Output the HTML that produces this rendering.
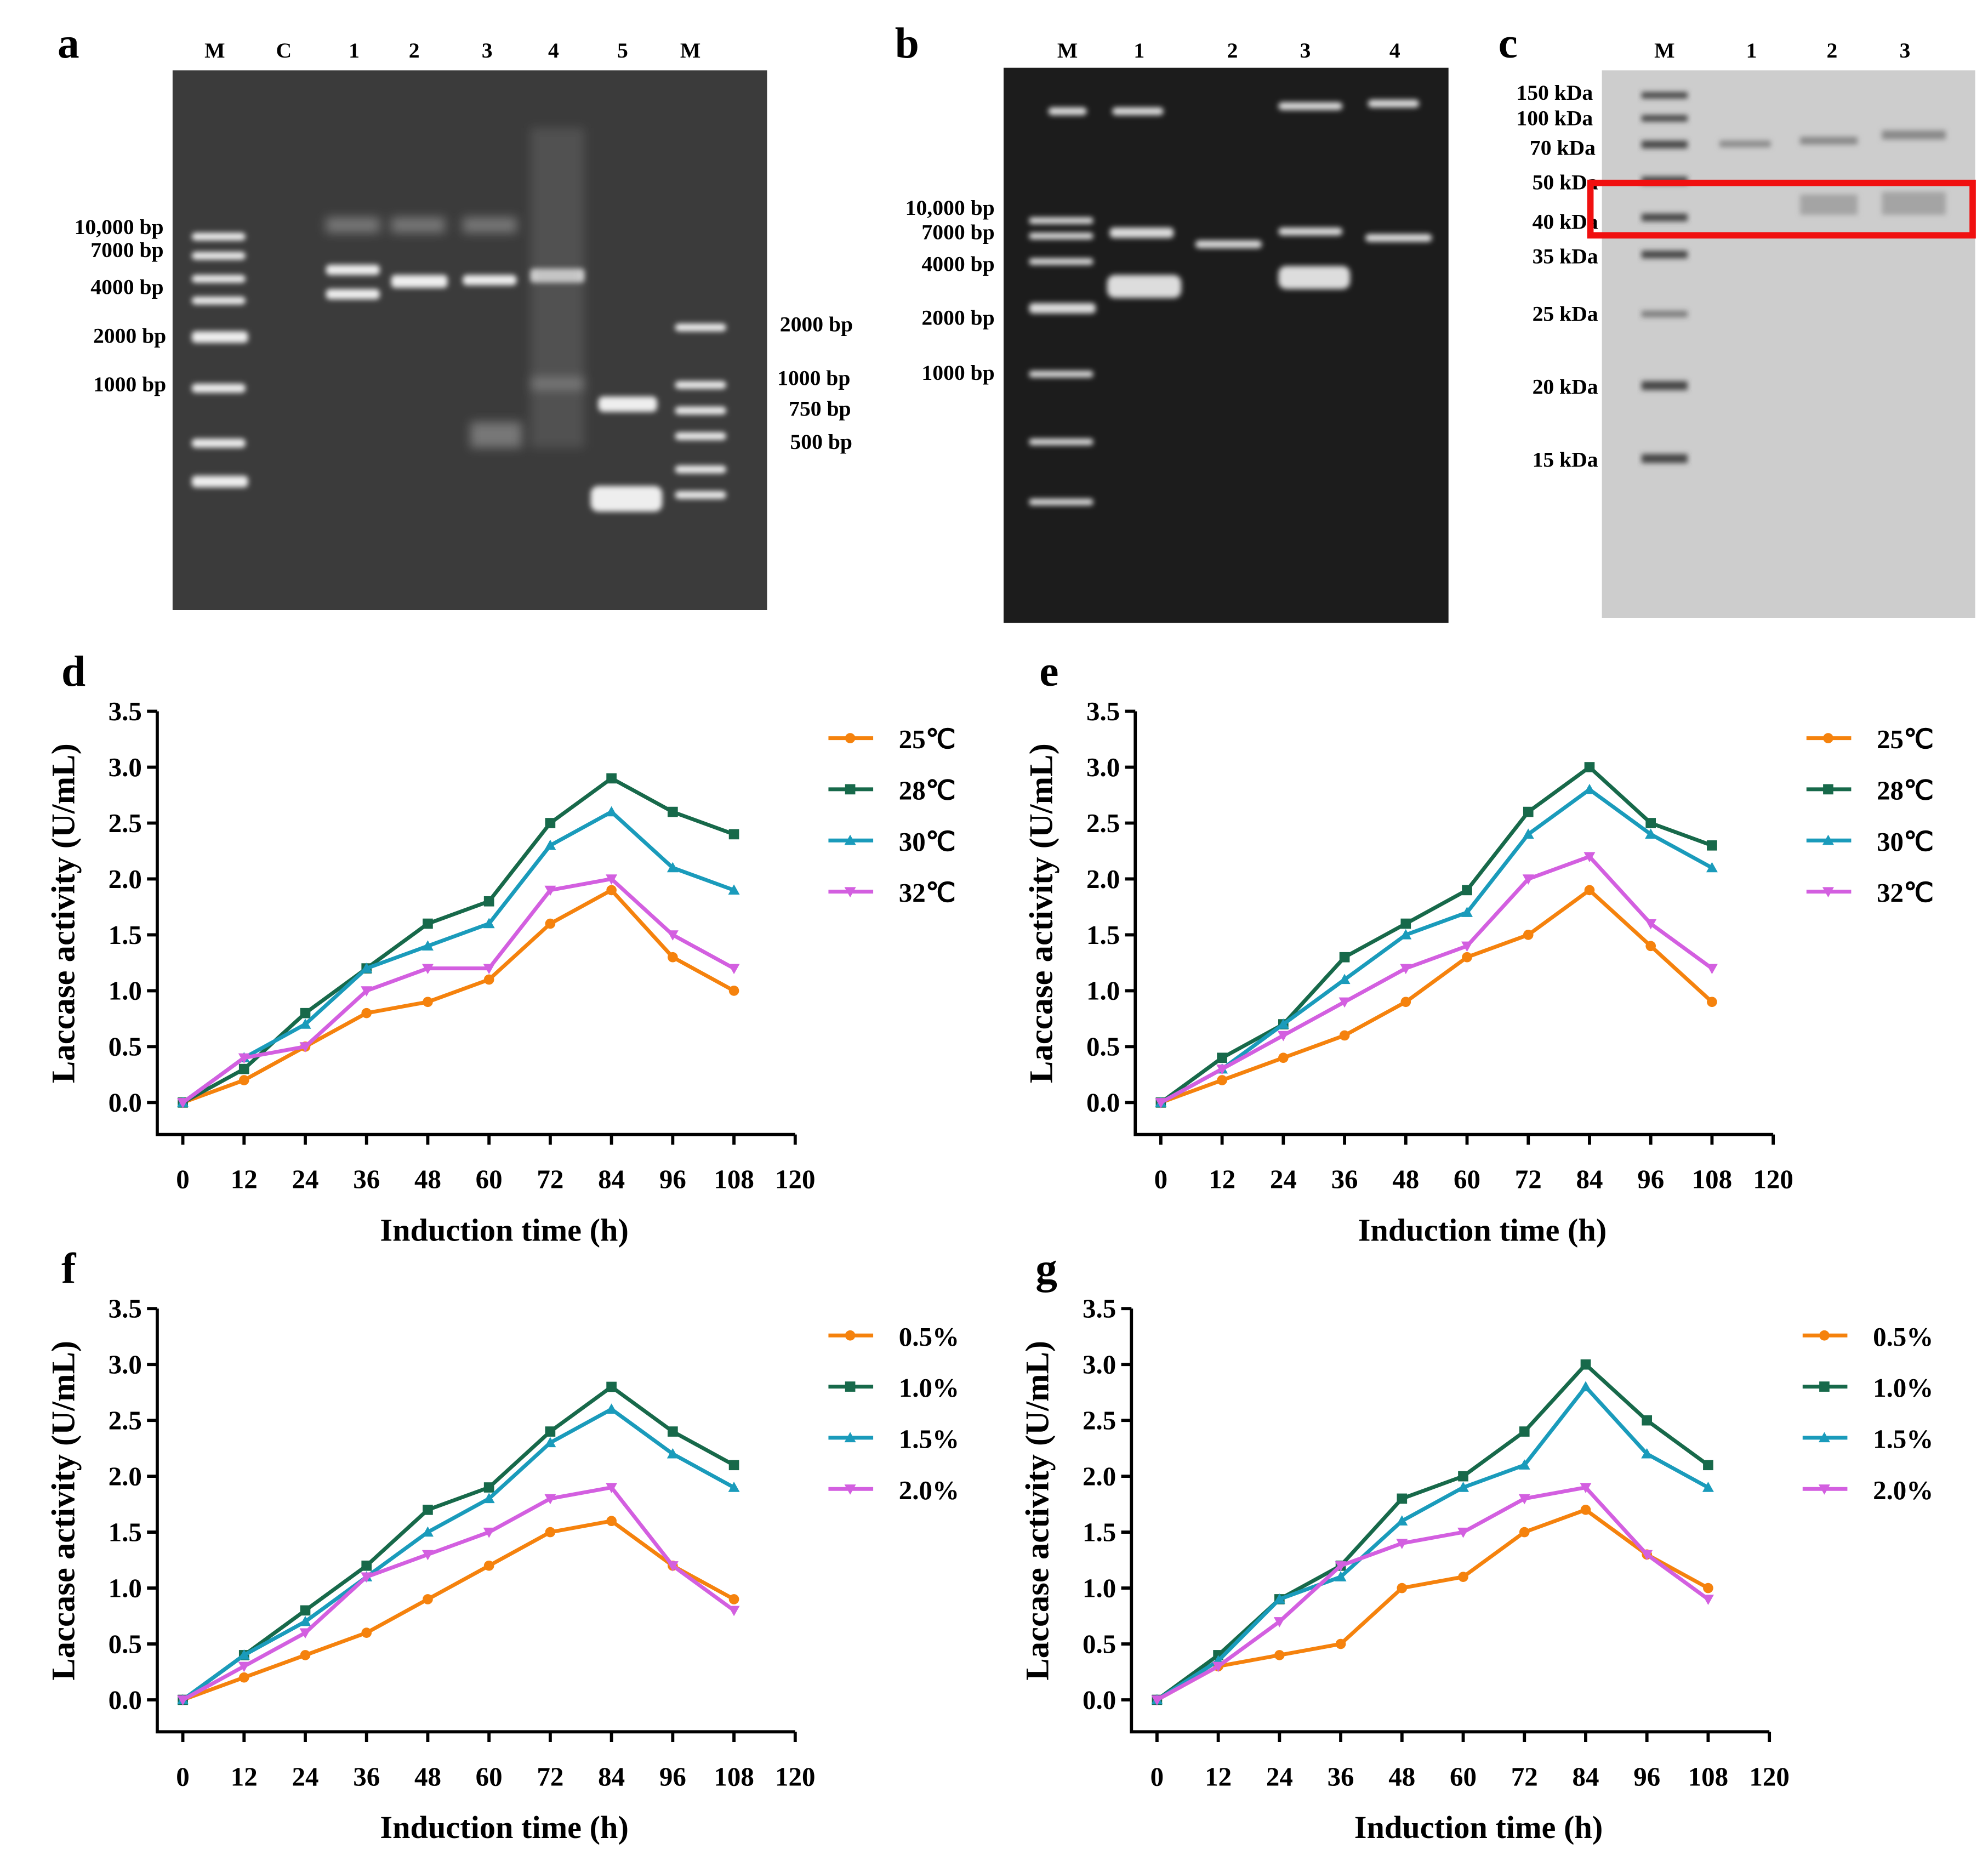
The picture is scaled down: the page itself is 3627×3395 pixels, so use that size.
<!DOCTYPE html>
<html><head><meta charset="utf-8"><style>
html,body{margin:0;padding:0;background:#fff;}
svg{display:block;}
text{font-family:"Liberation Serif",serif;font-weight:bold;fill:#000;}
</style></head><body>
<svg id="fig" width="3627" height="3395" viewBox="0 0 1555 1455" preserveAspectRatio="none" xmlns="http://www.w3.org/2000/svg">
<defs>
<filter id="blur2"><feGaussianBlur stdDeviation="2"/></filter>
<filter id="blur4"><feGaussianBlur stdDeviation="4"/></filter>
</defs>
<g>
<text x="45" y="45" font-size="34">a</text>
<rect x="135" y="55" width="465" height="422" fill="#3b3b3b"/>
<g font-size="17" text-anchor="middle"><text x="168" y="45">M</text><text x="222" y="45">C</text><text x="277" y="45">1</text><text x="324" y="45">2</text><text x="381" y="45">3</text><text x="433" y="45">4</text><text x="487" y="45">5</text><text x="540" y="45">M</text></g>
<g font-size="17" text-anchor="end"><text x="128" y="183">10,000 bp</text><text x="128" y="201">7000 bp</text><text x="128" y="230">4000 bp</text><text x="130" y="268">2000 bp</text><text x="130" y="306">1000 bp</text></g>
<g font-size="17"><text x="610" y="259">2000 bp</text><text x="608" y="301">1000 bp</text><text x="617" y="325">750 bp</text><text x="618" y="351">500 bp</text></g>
<g fill="#eee" filter="url(#blur2)">
<rect x="150" y="182" width="42" height="6" rx="3"/><rect x="150" y="197" width="42" height="6" rx="3"/><rect x="150" y="215" width="42" height="6" rx="3"/><rect x="150" y="232" width="42" height="6" rx="3"/><rect x="150" y="259" width="44" height="9" rx="3"/><rect x="150" y="300" width="42" height="7" rx="3"/><rect x="150" y="343" width="42" height="7" rx="3"/><rect x="150" y="372" width="44" height="9" rx="3"/>
<rect x="255" y="207" width="42" height="8" rx="3"/><rect x="255" y="226" width="42" height="8" rx="3"/>
<rect x="306" y="215" width="44" height="10" rx="3"/><rect x="362" y="215" width="42" height="8" rx="3"/><rect x="415" y="210" width="42" height="11" rx="3"/>
<rect x="468" y="310" width="46" height="12" rx="4"/><rect x="462" y="380" width="56" height="20" rx="6"/>
<rect x="528" y="253" width="40" height="6" rx="3"/><rect x="528" y="298" width="40" height="6" rx="3"/><rect x="528" y="318" width="40" height="6" rx="3"/><rect x="528" y="338" width="40" height="6" rx="3"/><rect x="528" y="364" width="40" height="6" rx="3"/><rect x="528" y="384" width="40" height="6" rx="3"/>
</g>
<g fill="#777" filter="url(#blur4)"><rect x="255" y="170" width="42" height="12"/><rect x="306" y="170" width="42" height="12"/><rect x="362" y="170" width="42" height="12"/><rect x="415" y="100" width="42" height="250" opacity="0.35"/><rect x="368" y="330" width="40" height="20"/><rect x="415" y="295" width="42" height="10"/></g>
</g>
<g>
<text x="700" y="45" font-size="34">b</text>
<rect x="785" y="53" width="348" height="434" fill="#1c1c1c"/>
<g font-size="17" text-anchor="middle"><text x="835" y="45">M</text><text x="891" y="45">1</text><text x="964" y="45">2</text><text x="1021" y="45">3</text><text x="1091" y="45">4</text></g>
<g font-size="17" text-anchor="end"><text x="778" y="168">10,000 bp</text><text x="778" y="187">7000 bp</text><text x="778" y="212">4000 bp</text><text x="778" y="254">2000 bp</text><text x="778" y="297">1000 bp</text></g>
<g fill="#ddd" filter="url(#blur2)">
<rect x="805" y="170" width="50" height="5" rx="2"/><rect x="805" y="182" width="50" height="5" rx="2"/><rect x="805" y="202" width="50" height="5" rx="2"/><rect x="805" y="237" width="52" height="8" rx="3"/><rect x="805" y="290" width="50" height="5" rx="2"/><rect x="805" y="343" width="50" height="5" rx="2"/><rect x="805" y="390" width="50" height="5" rx="2"/>
<rect x="868" y="178" width="50" height="8" rx="3"/><rect x="866" y="215" width="58" height="18" rx="6"/><rect x="935" y="188" width="52" height="6" rx="3"/><rect x="1000" y="178" width="50" height="6" rx="3"/><rect x="1000" y="208" width="56" height="18" rx="6"/><rect x="1068" y="183" width="52" height="6" rx="3"/>
<rect x="820" y="84" width="30" height="6" rx="3"/><rect x="870" y="84" width="40" height="6" rx="3"/><rect x="1000" y="80" width="50" height="6" rx="3"/><rect x="1070" y="78" width="40" height="6" rx="3"/>
</g>
</g>
<g>
<text x="1172" y="45" font-size="34">c</text>
<rect x="1253" y="55" width="292" height="428" fill="#cdcdcd"/>
<g font-size="17" text-anchor="middle"><text x="1302" y="45">M</text><text x="1370" y="45">1</text><text x="1433" y="45">2</text><text x="1490" y="45">3</text></g>
<g font-size="17" text-anchor="end"><text x="1246" y="78">150 kDa</text><text x="1246" y="98">100 kDa</text><text x="1248" y="121">70 kDa</text><text x="1250" y="148">50 kDa</text><text x="1250" y="179">40 kDa</text><text x="1250" y="206">35 kDa</text><text x="1250" y="251">25 kDa</text><text x="1250" y="308">20 kDa</text><text x="1250" y="365">15 kDa</text></g>
<g fill="#444" filter="url(#blur2)">
<rect x="1284" y="72" width="36" height="5"/><rect x="1284" y="90" width="36" height="5"/><rect x="1284" y="110" width="36" height="6"/><rect x="1284" y="138" width="36" height="6"/><rect x="1284" y="167" width="36" height="6"/><rect x="1284" y="196" width="36" height="6"/><rect x="1284" y="243" width="36" height="5" opacity="0.6"/><rect x="1284" y="298" width="36" height="7"/><rect x="1284" y="355" width="36" height="7"/>
</g>
<g fill="#888" filter="url(#blur2)"><rect x="1345" y="110" width="40" height="5"/><rect x="1408" y="107" width="45" height="6"/><rect x="1472" y="102" width="50" height="7"/><rect x="1408" y="152" width="45" height="16" opacity="0.6"/><rect x="1472" y="150" width="50" height="18" opacity="0.6"/></g>
<rect x="1244" y="143" width="299" height="41" fill="none" stroke="#f01010" stroke-width="5"/>
</g>
<g id="charts"></g>
</svg>
<script>
const ticksX = [0,12,24,36,48,60,72,84,96,108,120];
const ticksY = [0.0,0.5,1.0,1.5,2.0,2.5,3.0,3.5];
const times = [0,12,24,36,48,60,72,84,96,108];
const d25 = [0,0.2,0.5,0.8,0.9,1.1,1.6,1.9,1.3,1.0];
const d28 = [0,0.3,0.8,1.2,1.6,1.8,2.5,2.9,2.6,2.4];
const d30 = [0,0.4,0.7,1.2,1.4,1.6,2.3,2.6,2.1,1.9];
const d32 = [0,0.4,0.5,1.0,1.2,1.2,1.9,2.0,1.5,1.2];
const e25 = [0,0.2,0.4,0.6,0.9,1.3,1.5,1.9,1.4,0.9];
const e28 = [0,0.4,0.7,1.3,1.6,1.9,2.6,3.0,2.5,2.3];
const e30 = [0,0.3,0.7,1.1,1.5,1.7,2.4,2.8,2.4,2.1];
const e32 = [0,0.3,0.6,0.9,1.2,1.4,2.0,2.2,1.6,1.2];
const f05 = [0,0.2,0.4,0.6,0.9,1.2,1.5,1.6,1.2,0.9];
const f10 = [0,0.4,0.8,1.2,1.7,1.9,2.4,2.8,2.4,2.1];
const f15 = [0,0.4,0.7,1.1,1.5,1.8,2.3,2.6,2.2,1.9];
const f20 = [0,0.3,0.6,1.1,1.3,1.5,1.8,1.9,1.2,0.8];
const g05 = [0,0.3,0.4,0.5,1.0,1.1,1.5,1.7,1.3,1.0];
const g10 = [0,0.4,0.9,1.2,1.8,2.0,2.4,3.0,2.5,2.1];
const g15 = [0,0.35,0.9,1.1,1.6,1.9,2.1,2.8,2.2,1.9];
const g20 = [0,0.3,0.7,1.2,1.4,1.5,1.8,1.9,1.3,0.9];
const tempLabels = ["25\u2103","28\u2103","30\u2103","32\u2103"];
const concLabels = ["0.5%","1.0%","1.5%","2.0%"];
const colors = ["#f5820d","#17694a","#1a9bbb","#d35fe0"];
const markers = ["circle","square","up","down"];
const NS = "http://www.w3.org/2000/svg";
const root = document.getElementById('charts');
function mk(tag, attrs, parent){const e=document.createElementNS(NS,tag);for(const k in attrs)e.setAttribute(k,attrs[k]);parent.appendChild(e);return e;}
function marker(g,type,x,y,c){
  let m;
  if(type==="circle") m=mk('circle',{cx:x,cy:y,r:4,fill:c},g);
  else if(type==="square") m=mk('rect',{x:x-4,y:y-4,width:8,height:8,fill:c},g);
  else if(type==="up") m=mk('polygon',{points:`${x-4.5},${y+3.5} ${x+4.5},${y+3.5} ${x},${y-4.5}`,fill:c},g);
  else m=mk('polygon',{points:`${x-4.5},${y-3.5} ${x+4.5},${y-3.5} ${x},${y+4.5}`,fill:c},g);
  
  
}
function chart(name,letter,ox,oy,series,labels){
  const g=mk('g',{},root);
  
  
  const x0=ox+20, xs=479/120, ys=87.4;
  const X=t=>x0+t*xs, Y=v=>oy-v*ys;
  const top=Y(3.5), bottom=oy+25;
  const lt=mk('text',{x:ox-75,y:top-20,'font-size':34},g); lt.textContent=letter;
   
  const ax=mk('path',{d:`M${ox},${top} V${bottom} H${X(120)}`,stroke:'#000','stroke-width':2.5,fill:'none'},g);
   
  ticksY.forEach(v=>{
    mk('line',{x1:ox-8,x2:ox,y1:Y(v),y2:Y(v),stroke:'#000','stroke-width':2.5},g);
    const t=mk('text',{x:ox-12,y:Y(v)+7,'font-size':21,'text-anchor':'end'},g);t.textContent=v.toFixed(1);
     
  });
  ticksX.forEach(v=>{
    mk('line',{x1:X(v),x2:X(v),y1:bottom,y2:bottom+8,stroke:'#000','stroke-width':2.5},g);
    const t=mk('text',{x:X(v),y:bottom+42,'font-size':21,'text-anchor':'middle'},g);t.textContent=v;
     
  });
  const xt=mk('text',{x:X(60)+12,y:bottom+83,'font-size':25,'text-anchor':'middle'},g);xt.textContent='Induction time (h)';
   
  const yc=(top+oy)/2+5;
  const yt=mk('text',{x:0,y:0,'font-size':26,'text-anchor':'middle',transform:`translate(${ox-65},${yc}) rotate(-90)`},g);yt.textContent='Laccase activity (U/mL)';
   
  series.forEach((s,i)=>{
    const pts=times.map((t,j)=>`${X(t)},${Y(s[j])}`).join(' ');
    const pl=mk('polyline',{points:pts,fill:'none',stroke:colors[i],'stroke-width':3,'stroke-linejoin':'round'},g);
     
    times.forEach((t,j)=>marker(g,markers[i],X(t),Y(s[j]),colors[i]));
  });
  labels.forEach((l,i)=>{
    const lg=mk('g',{},g);
     
    const ly=top+21+i*40, lx=ox+525;
    mk('line',{x1:lx,x2:lx+35,y1:ly,y2:ly,stroke:colors[i],'stroke-width':3},lg);
    marker(lg,markers[i],lx+17,ly,colors[i]);
    const t=mk('text',{x:lx+55,y:ly+8,'font-size':21},lg);t.textContent=l;
  });
}
chart('chart-d','d',123,862,[d25,d28,d30,d32],tempLabels);
chart('chart-e','e',888,862,[e25,e28,e30,e32],tempLabels);
chart('chart-f','f',123,1329,[f05,f10,f15,f20],concLabels);
chart('chart-g','g',885,1329,[g05,g10,g15,g20],concLabels);
</script>
</body></html>
